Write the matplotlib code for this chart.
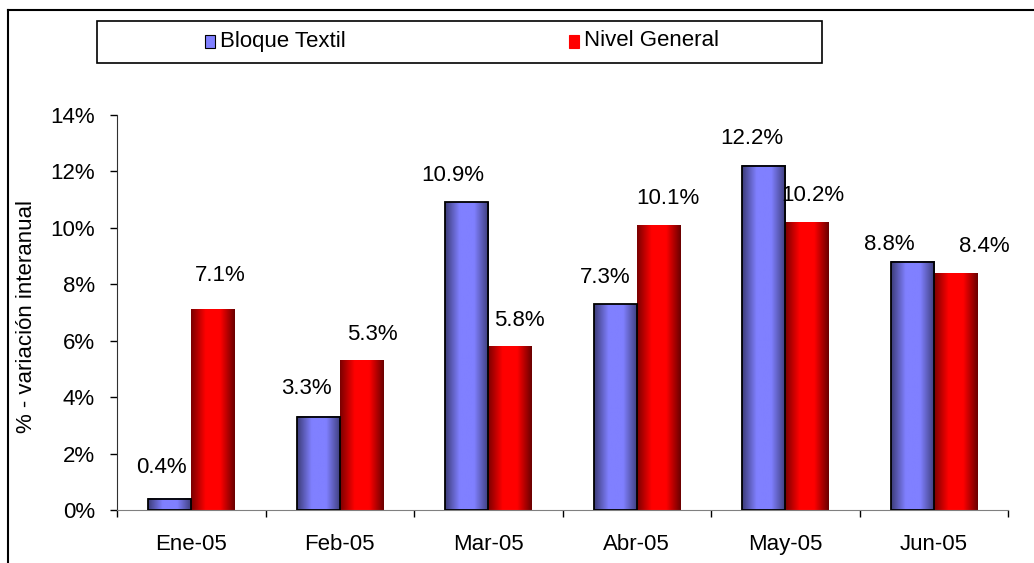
import numpy as np
import matplotlib
matplotlib.use('Agg')
import matplotlib.pyplot as plt
from matplotlib.colors import LinearSegmentedColormap
from matplotlib.patches import Rectangle
from matplotlib.lines import Line2D

plt.rcParams['font.family'] = ['Liberation Sans', 'DejaVu Sans']
plt.rcParams['font.size'] = 16

meses = ['Ene-05', 'Feb-05', 'Mar-05', 'Abr-05', 'May-05', 'Jun-05']
bloque_textil = [0.4, 3.3, 10.9, 7.3, 12.2, 8.8]
nivel_general = [7.1, 5.3, 5.8, 10.1, 10.2, 8.4]
series = ['Bloque Textil', 'Nivel General']

# desplazamiento de las etiquetas (px: derecha, arriba) respecto al tope de la barra
off_textil = [(-8, 31), (-12, 28), (-14, 27), (-10, 27), (-12, 27), (-23, 17)]
off_general = [(7, 34), (11, 26), (10, 26), (10, 27), (6, 27), (29, 27)]

azul = LinearSegmentedColormap.from_list('azul', ['#3c3c78', '#8080ff', '#8080ff', '#3c3c78'])
rojo = LinearSegmentedColormap.from_list('rojo', ['#7a0000', '#ff0000', '#ff0000', '#6a0000'])
grad = np.linspace(0, 1, 200).reshape(1, -1)

fig = plt.figure(figsize=(10.34, 5.63), dpi=100)
ax = fig.add_axes([117 / 1034, 1 - 510 / 563, 891 / 1034, 395 / 563])

x = np.arange(len(meses))
w = 0.29
b1 = ax.bar(x - w / 2, bloque_textil, w, facecolor='none', edgecolor='black', linewidth=1.3, zorder=3)
b2 = ax.bar(x + w / 2, nivel_general, w, facecolor='none', edgecolor='none', zorder=3)

for cont, cmap in [(b1, azul), (b2, rojo)]:
    for p in cont.patches:
        x0, h = p.get_x(), p.get_height()
        ax.imshow(grad, extent=[x0, x0 + p.get_width(), 0, h], aspect='auto', cmap=cmap, zorder=2)

for cont, vals, offs in [(b1, bloque_textil, off_textil), (b2, nivel_general, off_general)]:
    for p, v, (dx, dy) in zip(cont.patches, vals, offs):
        ax.annotate(f'{v:.1f}%', xy=(p.get_x() + p.get_width() / 2, v),
                    xytext=(dx * 0.72, dy * 0.72), textcoords='offset points',
                    ha='center', va='center', fontsize=16)

ax.set_xlim(-0.5, len(meses) - 0.5)
ax.set_ylim(0, 14)
ax.set_yticks(np.arange(0, 15, 2))
ax.set_yticklabels([f'{v}%' for v in range(0, 15, 2)])
ax.set_xticks(x)
ax.set_xticklabels(meses)
ax.set_xticks(np.arange(-0.5, len(meses)), minor=True)
ax.tick_params(axis='x', which='major', length=0, pad=17)
ax.tick_params(axis='x', which='minor', length=5, width=1, direction='out', color='black')
ax.tick_params(axis='y', length=5, width=1, direction='out', pad=11)
ax.spines['top'].set_visible(False)
ax.spines['right'].set_visible(False)
ax.spines['bottom'].set_color('#808080')
ax.spines['left'].set_color('#303030')
ax.set_ylabel('% - variación interanual', fontsize=16)
ax.yaxis.set_label_coords(-80 / 891, 0.49)

# leyenda
fig.add_artist(Rectangle((97 / 1034, 1 - 63 / 563), 725 / 1034, 42 / 563,
                         transform=fig.transFigure, facecolor='white', edgecolor='black', linewidth=1.2))
for xm, xt, cmap, nombre in [(205, 220, azul, series[0]), (569, 584, rojo, series[1])]:
    col = cmap(0.4)
    fig.add_artist(Rectangle((xm / 1034, 1 - 48 / 563), 10 / 1034, 13 / 563, transform=fig.transFigure,
                             facecolor=col, edgecolor='black' if cmap is azul else col, linewidth=0.8))
    fig.text(xt / 1034, 1 - 41 / 563, nombre, ha='left', va='center', fontsize=16)

# marco exterior
fig.add_artist(Line2D([8 / 1034, 8 / 1034], [0, 1 - 10 / 563], transform=fig.transFigure, color='black', lw=1.5))
fig.add_artist(Line2D([8 / 1034, 1], [1 - 10 / 563, 1 - 10 / 563], transform=fig.transFigure, color='black', lw=1.5))

fig.savefig('out.png', dpi=100)
